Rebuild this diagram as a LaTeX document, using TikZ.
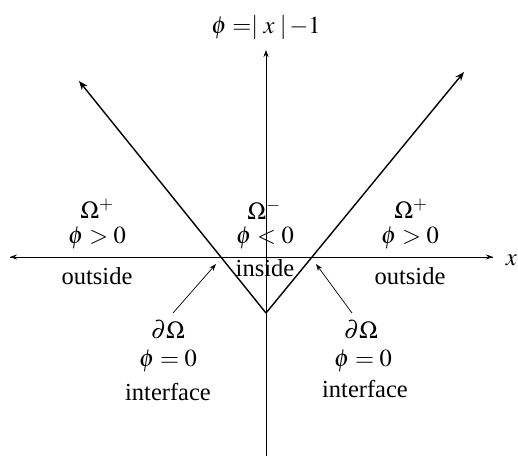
\documentclass[tikz,border=0pt]{standalone}
\usepackage{mathptmx}
\usepackage{fontspec}
\setmainfont{Liberation Serif}
\usetikzlibrary{arrows.meta}
\begin{document}
\begin{tikzpicture}[x=1pt,y=-1pt,
  lbl/.style={inner sep=0pt,font=\fontsize{24.5}{26}\selectfont},
  axis/.style={line width=0.8pt,-{Stealth[length=7pt,width=5pt]}},
  vline/.style={line width=1.4pt,-{Stealth[length=9pt,width=7pt]}},
  pointer/.style={line width=0.7pt,-{Stealth[length=7pt,width=5pt]}}]
\useasboundingbox (0,0) rectangle (518,458);
% axes
\coordinate (ybot) at (266,456);
\coordinate (ytop) at (266,50);
\coordinate (xleft) at (10,257);
\coordinate (xright) at (493,257);
\coordinate (vtx) at (266,313);
\coordinate (ltip) at (79,81);
\coordinate (rtip) at (464,72);
\draw[axis] (ybot) -- (ytop);
\draw[axis] (xright) -- (xleft);
\draw[axis] (xleft) -- (xright);
\draw[vline] (vtx) -- (ltip);
\draw[vline] (vtx) -- (rtip);
\node[lbl,anchor=east] (xl) at (517,260) {$x$};
\node[lbl] (title) at (266,27) {$\phi=\mid x\mid\!-1$};
% left region
\node[lbl] (om1) at (97,209) {$\Omega^{+}$};
\node[lbl] (ph1) at (97,238) {$\phi>0$};
\node[lbl] (out1) at (97,276) {outside};
% middle
\node[lbl] (om2) at (264,210) {$\Omega^{-}$};
\node[lbl] (ph2) at (265,238) {$\phi<0$};
\node[lbl] (ins) at (265,268) {inside};
% right
\node[lbl] (om3) at (411,209) {$\Omega^{+}$};
\node[lbl] (ph3) at (410,238) {$\phi>0$};
\node[lbl] (out3) at (410,276) {outside};
% interfaces
\node[lbl] (d1) at (168,330) {$\partial\Omega$};
\node[lbl] (z1) at (168,361) {$\phi=0$};
\node[lbl] (if1) at (168,392) {interface};
\node[lbl] (d2) at (361,330) {$\partial\Omega$};
\node[lbl] (z2) at (363,361) {$\phi=0$};
\node[lbl] (if2) at (365,389) {interface};
\coordinate (p1s) at (173,313);
\coordinate (p1e) at (216,264);
\coordinate (p2s) at (352,313);
\coordinate (p2e) at (316,264);
\draw[pointer] (p1s) -- (p1e);
\draw[pointer] (p2s) -- (p2e);
\end{tikzpicture}
\end{document}
